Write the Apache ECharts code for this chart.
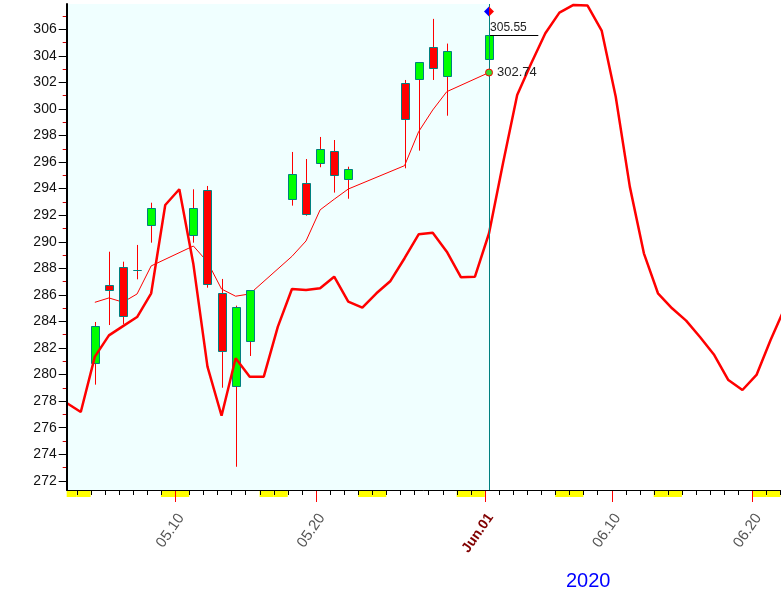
<!DOCTYPE html>
<html><head><meta charset="utf-8">
<script src="https://cdn.jsdelivr.net/npm/echarts@6/dist/echarts.min.js"></script>
<style>html,body{margin:0;padding:0;background:#fff}#c{width:781px;height:591px}</style>
</head><body><div id="c"></div>
<script>
// ---- data (x = days since 2020-05-02) ----
const DAY_OFFSET = 0.3;           // where a day's value sits inside its day slot
const candleDays = [2,3,4,5,6, 9,10,11,12,13, 16,17,18,19,20, 24,25,26,27, 30];
const openVals  = [280.89,286.72,288.08,287.85,291.24, 290.49,293.88,286.14,279.12,282.51, 293.20,294.40,295.91,296.81,294.70, 301.93,302.23,304.64,302.51, 303.74];
const closeVals = [283.66,286.35,284.39,287.85,292.52, 292.52,286.80,281.75,285.07,286.35, 295.08,292.07,296.96,295.01,295.48, 299.22,303.52,303.06,304.34, 305.55];
const lowVals   = [279.24,283.73,283.81,287.17,289.93, 289.93,286.54,279.01,273.06,281.40, 292.72,291.96,295.61,293.70,293.24, 295.53,296.86,302.18,299.49, 303.06];
const highVals  = [283.96,289.25,288.50,289.76,292.94, 293.95,294.20,287.20,285.19,286.35, 296.76,296.23,297.89,297.66,295.65, 302.18,303.52,306.78,304.92, 305.65];
const maVals    = [285.44,285.77,285.45,286.07,288.18, 289.68,288.48,286.44,285.90,286.07, 288.90,290.06,292.40,293.20,293.97, 295.73,298.29,299.92,301.30, 302.74];
// daily trend line, one value per calendar day from 2020-05-02
const trendVals = [277.86,277.18,281.35,282.95,283.65,284.33,286.12,292.77,293.95,288.30,
                   280.60,276.90,281.23,279.84,279.84,283.61,286.44,286.37,286.50,287.37,
                   285.49,285.04,286.12,287.05,288.76,290.56,290.68,289.25,287.33,287.37,
                   290.64,295.95,301.05,303.44,305.70,307.25,307.83,307.78,305.90,300.92,
                   294.15,289.13,286.12,284.99,284.06,282.81,281.47,279.59,278.84,279.97,
                   282.60,285.00];
const weekendStarts = [0,7,14,21,28,35,42,49];     // Saturdays
const labelDays  = [8,18,30,39,49];
const labelTexts = ['05.10','05.20','Jun.01','06.10','06.20'];
const yearText = '2020';
const yMin = 271.31, yMax = 307.9;
const xMin = 0.3, xMax = 51.04;

const dayTicks = []; for (let d = 1; d <= 51; d++) dayTicks.push(d);
const yMajor = []; for (let v = 272; v <= 306; v += 2) yMajor.push(v);
const yMinor = []; for (let v = 273; v <= 307; v += 2) yMinor.push(v);

const lastIdx = candleDays.length - 1;
const lastX = candleDays[lastIdx] + DAY_OFFSET;
const lastClose = closeVals[lastIdx];
const lastMA = maVals[lastIdx];

const candleData = candleDays.map((d,k)=>[d+DAY_OFFSET, openVals[k], closeVals[k], lowVals[k], highVals[k]]);
const maData = candleDays.map((d,k)=>[d+DAY_OFFSET, maVals[k]]);
const trendData = trendVals.map((v,i)=>[i+DAY_OFFSET, v]);
// one item per calendar-day slot: [slotStart, isWeekend, isLabelled]
const stripData = [];
for (let d = 0; d <= 51; d++) {
  const wk = weekendStarts.some(s => d === s || d === s + 1) ? 1 : 0;
  stripData.push([d, wk, labelDays.indexOf(d) >= 0 ? 1 : 0]);
}

function renderCandle(params, api){
  const x = api.value(0), o = api.value(1), c = api.value(2), lo = api.value(3), hi = api.value(4);
  const pO = api.coord([x,o]), pC = api.coord([x,c]), pL = api.coord([x,lo]), pH = api.coord([x,hi]);
  const w = Math.round(api.size([1,0])[0]*0.6);
  const px = Math.round(pO[0]);
  const top = Math.round(Math.min(pO[1],pC[1]));
  const bot = Math.round(Math.max(pO[1],pC[1]));
  return {type:'group', children:[
    {type:'line', shape:{x1:px+0.5,y1:pH[1],x2:px+0.5,y2:pL[1]}, style:{stroke:'#ff0000', lineWidth:1}},
    {type:'rect', shape:{x:px-w/2+0.5, y:top+0.5, width:w, height:bot-top},
     style:{fill: c>=o ? '#00ff00' : '#ff0000', stroke:'#008080', lineWidth:1}}
  ]};
}
function renderStrip(params, api){
  const d = api.value(0), wk = api.value(1), lab = api.value(2);
  const children = [];
  const a = api.coord([Math.max(d, xMin), 1]);
  const b = api.coord([Math.min(d + 1, xMax), 0]);
  if (wk === 1) children.push({type:'rect', shape:{x:a[0], y:a[1], width:b[0]-a[0], height:b[1]-a[1]}, style:{fill:'#ffff00'}, z2:1});
  if (d >= xMin) {
    const x = Math.round(api.coord([d, 1])[0]) + 0.5;
    children.push({type:'line', shape:{x1:x, y1:a[1], x2:x, y2:a[1] + (lab === 1 ? 12 : 5)},
      style:{stroke: lab === 1 ? '#ff0000' : '#000000', lineWidth:1}, z2:10});
  }
  return {type:'group', children:children};
}

const font = 'Liberation Sans, Arial, sans-serif';
const chart = echarts.init(document.getElementById('c'), null, {renderer:'canvas'});
chart.setOption({
  animation:false,
  backgroundColor:'#ffffff',
  title:{text:yearText, left:561, top:566, textStyle:{color:'#0000ff', fontSize:20, fontWeight:'normal', fontFamily:font}},
  grid:[
    {left:66.7, right:0, top:4, height:486, containLabel:false},
    {left:66.7, right:0, top:490, height:7, containLabel:false}
  ],
  xAxis:[
    {type:'value', gridIndex:0, position:'bottom', min:xMin, max:xMax, z:10,
     axisLine:{show:true, lineStyle:{color:'#000', width:1}},
     axisTick:{show:false},
     axisLabel:{show:true, customValues:labelDays, rotate:55, margin:21, verticalAlign:'top',
       fontFamily:font, fontSize:15, color:'#555',
       formatter:function(v){const k=labelDays.indexOf(Math.round(v)); if(k<0) return ''; return k===2?'{m|'+labelTexts[k]+'}':labelTexts[k];},
       rich:{m:{color:'#800000', fontWeight:'bold', fontSize:14, fontFamily:font}}},
     splitLine:{show:false}},
    {type:'value', gridIndex:1, min:xMin, max:xMax, show:false}
  ],
  yAxis:[
    {type:'value', gridIndex:0, position:'left', min:yMin, max:yMax, z:10,
     axisLine:{show:true, lineStyle:{color:'#000', width:2}},
     axisTick:{show:true, customValues:yMajor, length:8, lineStyle:{color:'#000', width:1}},
     axisLabel:{show:true, customValues:yMajor, margin:10, fontFamily:font, fontSize:14, color:'#111',
       formatter:function(v){return Math.round(v).toString();}},
     splitLine:{show:false}},
    {type:'value', gridIndex:0, position:'left', offset:0, min:yMin, max:yMax, z:9,
     axisLine:{show:false},
     axisTick:{show:true, customValues:yMinor, length:4, lineStyle:{color:'#cc0000', width:1}},
     axisLabel:{show:false}, splitLine:{show:false}},
    {type:'value', gridIndex:1, min:0, max:1, show:false}
  ],
  series:[
    {type:'custom', name:'dayStrip', xAxisIndex:1, yAxisIndex:2, data:stripData, silent:true, z:6,
     encode:{x:0}, renderItem:renderStrip, clip:false},
    {type:'line', name:'MA', xAxisIndex:0, yAxisIndex:0, data:maData, z:2,
     symbol:'none', lineStyle:{color:'#ff0000', width:1},
     markArea:{silent:true, z:-1, itemStyle:{color:'#f0ffff'}, data:[[{xAxis:xMin},{xAxis:lastX}]]},
     markPoint:{silent:true, data:[
       {coord:[lastX, lastMA], symbol:'circle', symbolSize:7,
        itemStyle:{color:'#33dd33', borderColor:'#ff0000', borderWidth:1},
        label:{show:true, position:'right', distance:4, formatter:lastMA.toFixed(2), color:'#222', fontSize:13, fontFamily:font}},
       {coord:[lastX, 307.34], symbol:'path://M5,0 L0,5 L5,10 Z', symbolSize:[5,10], symbolOffset:[-2.5,0],
        itemStyle:{color:'#0000ff'}, label:{show:false}},
       {coord:[lastX, 307.34], symbol:'path://M0,0 L5,5 L0,10 Z', symbolSize:[5,10], symbolOffset:[2.5,0],
        itemStyle:{color:'#ff0000'}, label:{show:false}}
     ]}},
    {type:'custom', name:'K', xAxisIndex:0, yAxisIndex:0, data:candleData, z:3,
     encode:{x:0, y:[1,2,3,4]}, renderItem:renderCandle,
     markLine:{silent:true, symbol:'none', data:[
       [{coord:[lastX, lastClose], lineStyle:{color:'#000', width:1, type:'solid'},
         label:{show:true, position:'insideStartTop', distance:[1,2], formatter:lastClose.toFixed(2), color:'#222', fontSize:12, fontFamily:font}},
        {coord:[lastX+3.5, lastClose]}],
       {xAxis:lastX, lineStyle:{color:'#008080', width:1, type:'solid'}, label:{show:false}}
     ]}},
    {type:'line', name:'trend', xAxisIndex:0, yAxisIndex:0, data:trendData, z:4,
     symbol:'none', lineStyle:{color:'#ff0000', width:2.5}, clip:true}
  ]
});
</script>
</body></html>
